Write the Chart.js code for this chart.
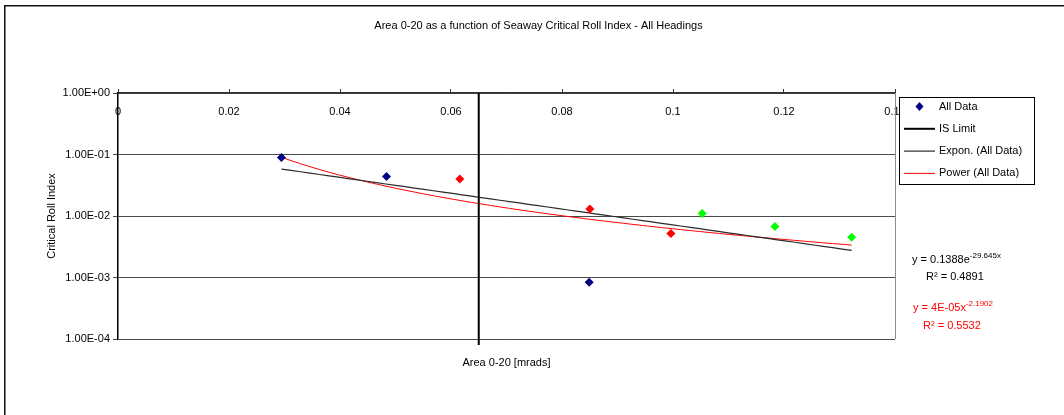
<!DOCTYPE html>
<html>
<head>
<meta charset="utf-8">
<title>Area 0-20 vs Seaway Critical Roll Index</title>
<script src="https://cdn.jsdelivr.net/npm/chart.js@4.4.1/dist/chart.umd.min.js"></script>
<style>
  html, body { margin: 0; padding: 0; background: #ffffff; }
  canvas { display: block; }
</style>
</head>
<body>
<canvas id="chart" width="1064" height="415"></canvas>
<script>
// Area under GZ curve 0-20 deg (m.rad) against the seaway critical roll index
const areaValues      = [0.02945, 0.04838, 0.06159, 0.08502, 0.08490, 0.09962, 0.10526, 0.11837, 0.13219];
const rollIndexValues = [0.0895, 0.0439, 0.0398, 0.01294, 0.000838, 0.00518, 0.01097, 0.00674, 0.00453];
// loading group of each run (0 = group A, 1 = group B, 2 = group C)
const pointGroups     = [0, 0, 1, 1, 0, 1, 2, 2, 2];

// IS (Intact Stability) limit on area 0-20
const isLimitArea   = 0.065;
const isLimitRange  = [1, 0.00008];

// fitted trendlines: y = a*e^(b*x) and y = a*x^b
const expFit   = [0.1388, -29.645];
const expR2    = 0.4891;
const powerFit = [4e-05, -2.1902];
const powerR2  = 0.5532;

// axis ticks
const xTickValues = [0, 0.02, 0.04, 0.06, 0.08, 0.1, 0.12, 0.14];
const xTickLabels = ['0', '0.02', '0.04', '0.06', '0.08', '0.1', '0.12', '0.14'];
const yTickValues = [1, 0.1, 0.01, 0.001, 0.0001];
const yTickLabels = ['1.00E+00', '1.00E-01', '1.00E-02', '1.00E-03', '1.00E-04'];

const groupColours = ['#000080', '#FF0000', '#00FF00'];
const FONT = "'Liberation Sans', Arial, Helvetica, sans-serif";

Chart.defaults.font.family = FONT;
Chart.defaults.font.size = 11;
Chart.defaults.color = '#000000';

function excelSci(v) {
  const parts = v.toExponential().split('e');
  const n = parseInt(parts[1], 10);
  return parts[0].toUpperCase() + 'E' + (n < 0 ? '-' : '+') + String(Math.abs(n)).padStart(2, '0');
}

// trendline curves over the span of the measured data
const xMin = Math.min(...areaValues);
const xMax = Math.max(...areaValues);
function fitCurve(fn) {
  const pts = [];
  const n = 60;
  for (let i = 0; i <= n; i++) {
    const x = xMin + (xMax - xMin) * i / n;
    pts.push({ x: x, y: fn(x) });
  }
  return pts;
}
const expCurve   = fitCurve(x => expFit[0] * Math.exp(expFit[1] * x));
const powerCurve = fitCurve(x => powerFit[0] * Math.pow(x, powerFit[1]));

const measured = areaValues.map((a, i) => ({ x: a, y: rollIndexValues[i] }));

// chart title, outer frame and right edge of the plot
const framePlugin = {
  id: 'frame',
  beforeDraw(chart) {
    const ctx = chart.ctx;
    ctx.save();
    ctx.strokeStyle = '#111111';
    ctx.lineWidth = 1.5;
    ctx.beginPath();
    ctx.moveTo(4.75, chart.height);
    ctx.lineTo(4.75, 5.75);
    ctx.lineTo(chart.width, 5.75);
    ctx.stroke();
    ctx.fillStyle = '#000000';
    ctx.font = '11px ' + FONT;
    ctx.textAlign = 'center';
    ctx.textBaseline = 'middle';
    ctx.fillText('Area 0-20 as a function of Seaway Critical Roll Index - All Headings', 538.5, 26);
    ctx.restore();
  },
  afterDatasetsDraw(chart) {
    const a = chart.chartArea;
    const ctx = chart.ctx;
    ctx.save();
    ctx.strokeStyle = '#8c8c8c';
    ctx.lineWidth = 1;
    ctx.beginPath();
    ctx.moveTo(Math.round(a.right) + 0.5, a.top);
    ctx.lineTo(Math.round(a.right) + 0.5, a.bottom);
    ctx.stroke();
    ctx.restore();
  }
};

// legend box at the right of the plot
const legendPlugin = {
  id: 'sideLegend',
  afterDraw(chart) {
    const ctx = chart.ctx;
    const L = 899, T = 97, R = 1034, B = 184;
    ctx.save();
    ctx.fillStyle = '#ffffff';
    ctx.fillRect(L, T, R - L, B - T);
    ctx.strokeStyle = '#000000';
    ctx.lineWidth = 1;
    ctx.strokeRect(L + 0.5, T + 0.5, R - L, B - T);
    ctx.font = '11px ' + FONT;
    ctx.textAlign = 'left';
    ctx.textBaseline = 'middle';
    chart.data.datasets.forEach((ds, i) => {
      const y = T + 9.5 + i * 22.3;
      if (ds.showLine) {
        ctx.strokeStyle = ds.borderColor;
        ctx.lineWidth = ds.borderWidth;
        ctx.beginPath();
        ctx.moveTo(904, y);
        ctx.lineTo(935, y);
        ctx.stroke();
      } else {
        ctx.fillStyle = ds.legendColour;
        ctx.beginPath();
        ctx.moveTo(919.5, y - 4.5);
        ctx.lineTo(923.5, y);
        ctx.lineTo(919.5, y + 4.5);
        ctx.lineTo(915.5, y);
        ctx.closePath();
        ctx.fill();
      }
      ctx.fillStyle = '#000000';
      ctx.fillText(ds.label, 939, y);
    });
    ctx.restore();
  }
};

// trendline equations with their R squared values
function drawEquation(ctx, x, y, base, sup, colour) {
  ctx.fillStyle = colour;
  ctx.font = '11px ' + FONT;
  ctx.fillText(base, x, y);
  const w = ctx.measureText(base).width;
  ctx.font = '8px ' + FONT;
  ctx.fillText(sup, x + w, y - 4);
}
const equationPlugin = {
  id: 'equations',
  afterDraw(chart) {
    const ctx = chart.ctx;
    ctx.save();
    ctx.textAlign = 'left';
    ctx.textBaseline = 'middle';
    drawEquation(ctx, 912, 260, 'y = ' + expFit[0] + 'e', expFit[1] + 'x', '#000000');
    ctx.font = '11px ' + FONT;
    ctx.fillText('R\u00B2 = ' + expR2, 926, 277);
    drawEquation(ctx, 913, 308, 'y = ' + excelSci(powerFit[0]) + 'x', String(powerFit[1]), '#FF0000');
    ctx.font = '11px ' + FONT;
    ctx.fillText('R\u00B2 = ' + powerR2, 923, 326);
    ctx.restore();
  }
};

new Chart(document.getElementById('chart'), {
  type: 'scatter',
  data: {
    datasets: [
      {
        label: 'All Data',
        data: measured,
        showLine: false,
        pointStyle: 'rectRot',
        pointRadius: 4.5,
        pointBorderWidth: 0,
        pointBackgroundColor: pointGroups.map(g => groupColours[g]),
        pointBorderColor: pointGroups.map(g => groupColours[g]),
        legendColour: groupColours[0]
      },
      {
        label: 'IS Limit',
        data: isLimitRange.map(v => ({ x: isLimitArea, y: v })),
        showLine: true,
        borderColor: '#000000',
        borderWidth: 2,
        pointRadius: 0,
        clip: { left: 0, top: 0, right: 0, bottom: false }
      },
      {
        label: 'Expon. (All Data)',
        data: expCurve,
        showLine: true,
        borderColor: '#2a2a2a',
        borderWidth: 1.2,
        pointRadius: 0
      },
      {
        label: 'Power (All Data)',
        data: powerCurve,
        showLine: true,
        borderColor: '#FF0000',
        borderWidth: 1,
        pointRadius: 0
      }
    ]
  },
  options: {
    responsive: false,
    animation: false,
    events: [],
    layout: { padding: { left: 0, right: 169, top: 0, bottom: 0 } },
    plugins: {
      legend: { display: false },
      tooltip: { enabled: false },
      title: { display: false }
    },
    scales: {
      x: {
        type: 'linear',
        position: 'top',
        min: 0,
        max: 0.14,
        afterBuildTicks: s => { s.ticks = xTickValues.map(v => ({ value: v })); },
        afterFit: s => { s.height = 93; },
        ticks: {
          mirror: true,
          padding: 12.4,
          autoSkip: false,
          maxRotation: 0,
          callback: (v, i) => xTickLabels[i]
        },
        grid: {
          drawOnChartArea: false,
          drawTicks: true,
          tickLength: 4,
          color: '#333333',
          lineWidth: 1
        },
        border: { display: true, color: '#333333', width: 1.5 }
      },
      x2: {
        type: 'linear',
        position: 'bottom',
        min: 0,
        max: 0.14,
        afterFit: s => { s.height = 76; },
        ticks: { display: false },
        grid: { display: false },
        border: { display: false },
        title: {
          display: true,
          text: 'Area 0-20 [mrads]',
          font: { size: 11 },
          padding: { top: 0, bottom: 45.4 }
        }
      },
      y: {
        type: 'logarithmic',
        position: 'left',
        min: 0.0001,
        max: 1,
        afterBuildTicks: s => { s.ticks = yTickValues.map(v => ({ value: v })); },
        afterFit: s => { s.width = 118; },
        ticks: {
          padding: 3,
          autoSkip: false,
          callback: v => yTickLabels[yTickValues.indexOf(v)]
        },
        grid: {
          drawTicks: true,
          tickLength: 5,
          color: '#4a4a4a',
          lineWidth: 1
        },
        border: { display: true, color: '#000000', width: 1.5 },
        title: {
          display: true,
          text: 'Critical Roll Index',
          font: { size: 11 },
          padding: { top: 45.4, bottom: 0 }
        }
      }
    }
  },
  plugins: [framePlugin, legendPlugin, equationPlugin]
});
</script>
</body>
</html>
